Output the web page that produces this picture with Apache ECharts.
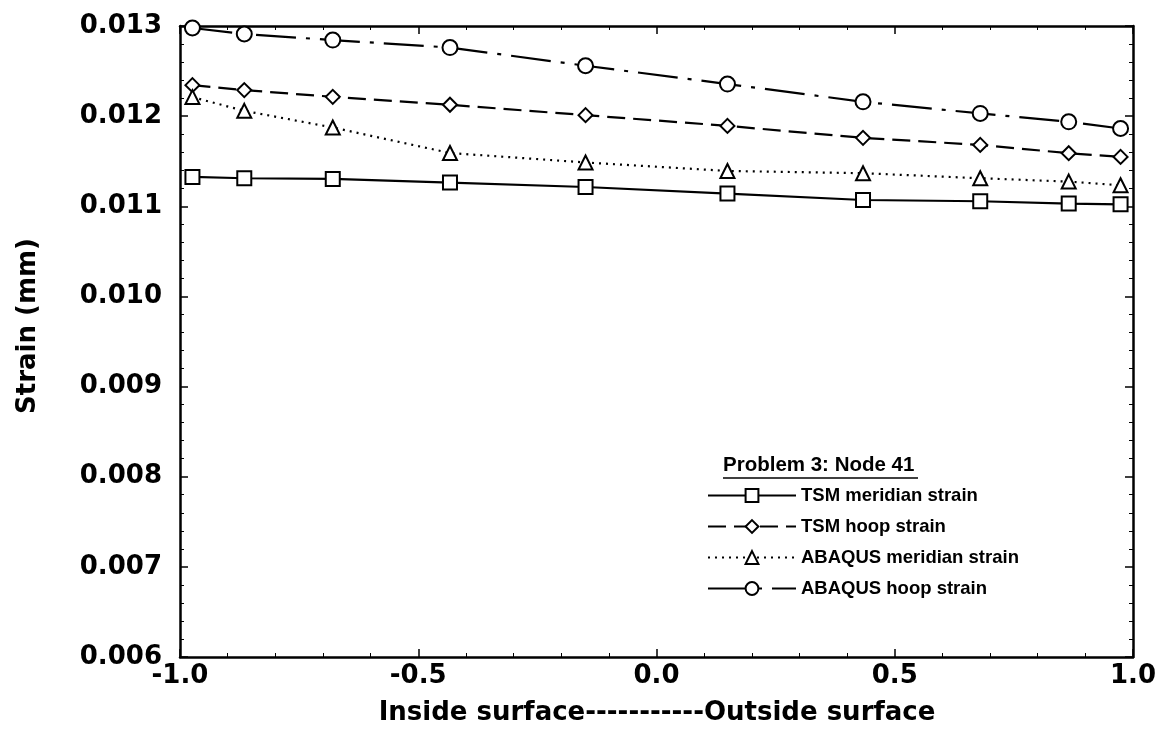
<!DOCTYPE html>
<html>
<head>
<meta charset="utf-8">
<script src="https://cdn.jsdelivr.net/npm/echarts@6/dist/echarts.min.js"></script>
<style>html,body{margin:0;padding:0;background:#fff}#chart{width:1160px;height:729px}</style>
</head>
<body>
<div id="chart"></div>
<script>
// Through-thickness positions (normalised)
const positions = [-0.9739, -0.8651, -0.6794, -0.4334, -0.1489, 0.1489, 0.4334, 0.6794, 0.8651, 0.9739];
const tsmMeridian    = [0.011326, 0.011311, 0.011303, 0.011263, 0.011214, 0.011141, 0.011070, 0.011056, 0.011030, 0.011022];
const tsmHoop        = [0.012344, 0.012289, 0.012214, 0.012126, 0.012011, 0.011892, 0.011759, 0.011681, 0.011589, 0.011548];
const abaqusMeridian = [0.012211, 0.012059, 0.011874, 0.011591, 0.011486, 0.011392, 0.011367, 0.011311, 0.011274, 0.011233];
const abaqusHoop     = [0.012978, 0.012911, 0.012844, 0.012761, 0.012559, 0.012356, 0.012159, 0.012030, 0.011937, 0.011863];
const seriesNames = ['TSM meridian strain', 'TSM hoop strain', 'ABAQUS meridian strain', 'ABAQUS hoop strain'];
const legendTitle = 'Problem 3: Node 41';
const xTitle = 'Inside surface-----------Outside surface';
const yTitle = 'Strain (mm)';

const pair = arr => positions.map((x, i) => [x, arr[i]]);
const tickFont = {fontFamily: 'DejaVu Sans', fontWeight: 'bold', fontSize: 26, color: '#000'};

const axisCommon = {
  type: 'value',
  axisLine: {show: true, onZero: false, lineStyle: {color: '#000', width: 2.5}},
  axisTick: {show: true, inside: true, length: 8, lineStyle: {color: '#000', width: 1.5}},
  minorTick: {show: true, splitNumber: 5, length: 4, lineStyle: {color: '#000', width: 1}},
  splitLine: {show: false},
  minorSplitLine: {show: false}
};

const xBase = Object.assign({}, axisCommon, {min: -1, max: 1, interval: 0.5});
const yBase = Object.assign({}, axisCommon, {min: 0.006, max: 0.013, interval: 0.001});

function mk(name, arr, symbol, size, lineType, extra) {
  return Object.assign({
    name: name, type: 'line', data: pair(arr),
    symbol: symbol, symbolSize: size, showAllSymbol: true, clip: false,
    itemStyle: {color: '#fff', borderColor: '#000', borderWidth: 2},
    lineStyle: {color: '#000', width: 2.2, type: lineType},
    emphasis: {disabled: true}, z: 3
  }, extra || {});
}

const chart = echarts.init(document.getElementById('chart'), null, {renderer: 'canvas'});
chart.setOption({
  animation: false,
  backgroundColor: '#fff',
  grid: {left: 180, right: 27, top: 26, bottom: 72, containLabel: false},
  xAxis: [
    Object.assign({}, xBase, {position: 'bottom',
      axisLabel: Object.assign({}, tickFont, {margin: 6, formatter: v => v.toFixed(1)})}),
    Object.assign({}, xBase, {position: 'top', axisLabel: {show: false}})
  ],
  yAxis: [
    Object.assign({}, yBase, {position: 'left',
      axisLabel: Object.assign({}, tickFont, {margin: 18, formatter: v => v.toFixed(3)})}),
    Object.assign({}, yBase, {position: 'right', axisLabel: {show: false}})
  ],
  legend: {
    orient: 'vertical', left: 702, top: 481,
    itemWidth: 88, itemHeight: 16, itemGap: 12,
    data: seriesNames,
    textStyle: {fontFamily: 'Liberation Sans', fontWeight: 'bold', fontSize: 18.5, color: '#000'},
    inactiveColor: '#000'
  },
  graphic: [
    {type: 'text', left: 723, top: 455,
     style: {text: legendTitle, font: 'bold 20.5px "Liberation Sans"', fill: '#000'}},
    {type: 'line', shape: {x1: 723, y1: 478, x2: 918, y2: 478}, style: {stroke: '#000', lineWidth: 1.5}},
    {type: 'text', x: 657, y: 713,
     style: {text: xTitle, font: 'bold 26px "DejaVu Sans"', fill: '#000', align: 'center', verticalAlign: 'middle'}},
    {type: 'text', x: 28, y: 326, rotation: Math.PI / 2,
     style: {text: yTitle, font: 'bold 26px "DejaVu Sans"', fill: '#000', align: 'center', verticalAlign: 'middle'}}
  ],
  series: [
    mk(seriesNames[0], tsmMeridian, 'rect', 14, 'solid'),
    mk(seriesNames[1], tsmHoop, 'diamond', 14, [18, 8]),
    mk(seriesNames[2], abaqusMeridian, 'triangle', 14, [2, 5]),
    mk(seriesNames[3], abaqusHoop, 'circle', 15, [40, 10, 4, 10])
  ]
});
</script>
</body>
</html>
